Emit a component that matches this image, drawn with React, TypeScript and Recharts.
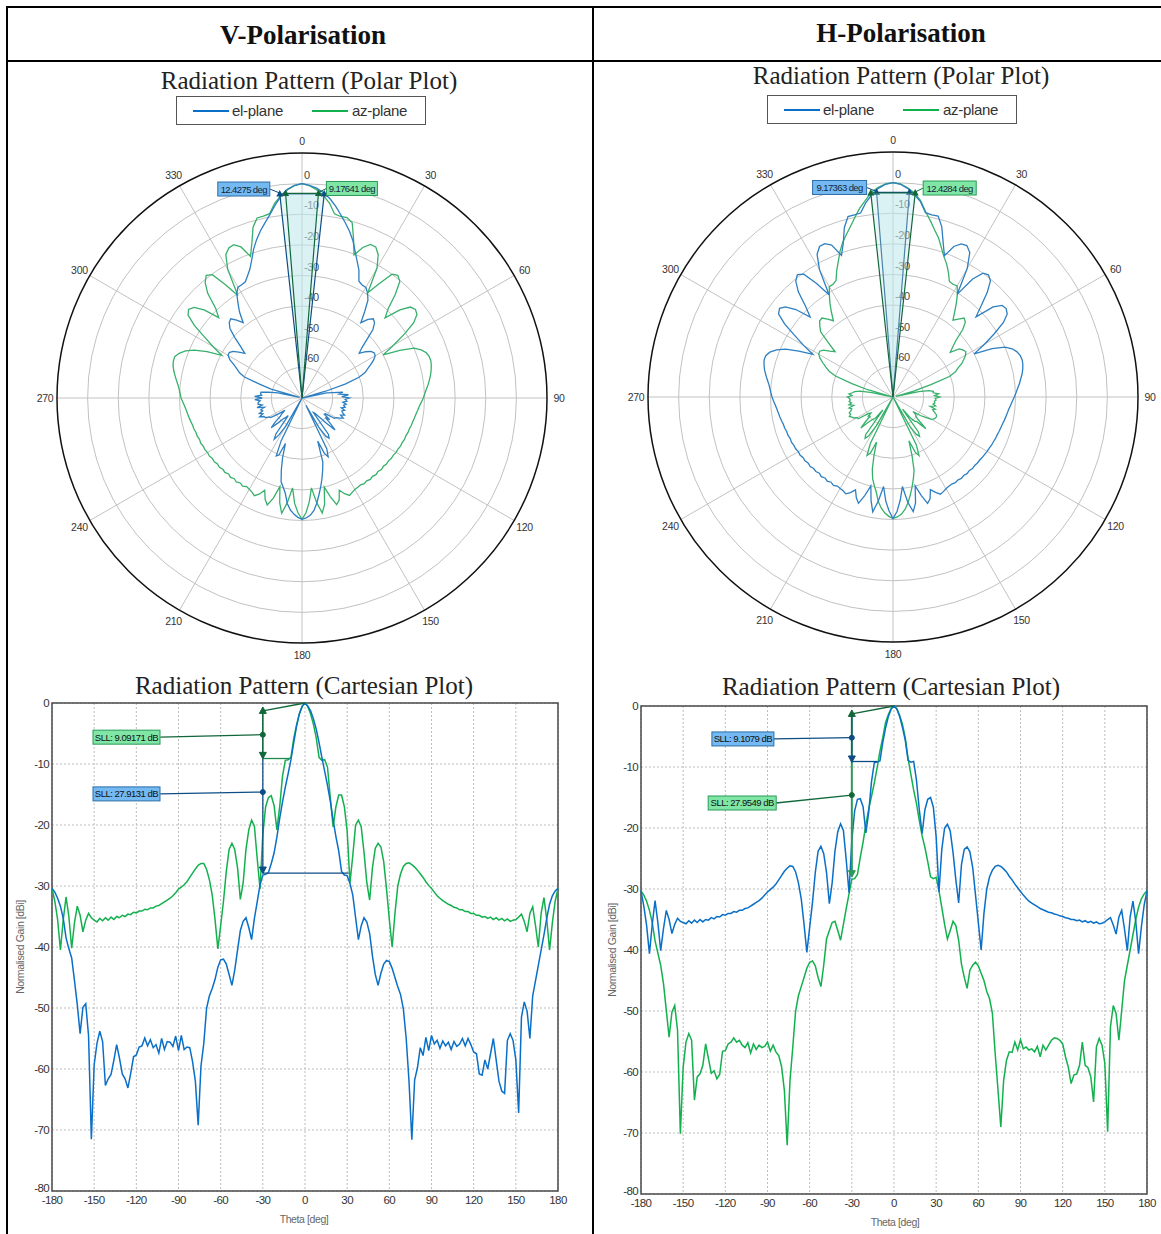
import React from 'react';
import {
  LineChart, Line, XAxis, YAxis, CartesianGrid, ReferenceLine, ReferenceDot, ReferenceArea,
  RadarChart, Radar, PolarGrid, PolarAngleAxis, PolarRadiusAxis,
} from 'recharts';

// theta grid (deg), 2 deg steps
const THETA = [
  -180, -178, -176, -174, -172, -170, -168, -166, -164, -162,
  -160, -158, -156, -154, -152, -150, -148, -146, -144, -142,
  -140, -138, -136, -134, -132, -130, -128, -126, -124, -122,
  -120, -118, -116, -114, -112, -110, -108, -106, -104, -102,
  -100, -98, -96, -94, -92, -90, -88, -86, -84, -82,
  -80, -78, -76, -74, -72, -70, -68, -66, -64, -62,
  -60, -58, -56, -54, -52, -50, -48, -46, -44, -42,
  -40, -38, -36, -34, -32, -30, -28, -26, -24, -22,
  -20, -18, -16, -14, -12, -10, -8, -6, -4, -2,
  0, 2, 4, 6, 8, 10, 12, 14, 16, 18,
  20, 22, 24, 26, 28, 30, 32, 34, 36, 38,
  40, 42, 44, 46, 48, 50, 52, 54, 56, 58,
  60, 62, 64, 66, 68, 70, 72, 74, 76, 78,
  80, 82, 84, 86, 88, 90, 92, 94, 96, 98,
  100, 102, 104, 106, 108, 110, 112, 114, 116, 118,
  120, 122, 124, 126, 128, 130, 132, 134, 136, 138,
  140, 142, 144, 146, 148, 150, 152, 154, 156, 158,
  160, 162, 164, 166, 168, 170, 172, 174, 176, 178,
  180,
];

// V-polarisation, el-plane (blue)
const V_EL = [
  -30.4, -31, -32, -33.3, -35.3, -38.5, -40.3, -41.8, -45.5, -49.5,
  -54.2, -49.9, -49.3, -54.5, -71.5, -59.3, -55.8, -53.8, -55.5, -62.7,
  -61.6, -60.9, -58.6, -56, -58.2, -60.8, -61.6, -63.1, -60.7, -58,
  -57.7, -56.4, -56.2, -54.9, -56.2, -55.2, -56.5, -56, -57.4, -55,
  -56.8, -55.5, -55.6, -56.3, -54.6, -57, -54.5, -56.8, -56.4, -56.5,
  -58.8, -62, -69.2, -59.5, -55.8, -50, -48, -46.8, -45.3, -43.3,
  -42.1, -42, -42.8, -44.5, -46.3, -43.8, -40.5, -37.3, -35.8, -35.2,
  -36.8, -38.8, -35.3, -32.6, -29.8, -28.2, -28.1, -27.8, -26.3, -24.6,
  -22, -18.9, -16.2, -13.8, -11.6, -9.3, -6.5, -3.8, -1.7, -0.5,
  0, -0.5, -1.3, -2.6, -4.3, -6.5, -8.9, -11.2, -13.5, -16.1,
  -19.2, -21.9, -24.3, -27.6, -28.2, -28.3, -29.6, -31.5, -35.2, -38.8,
  -36.5, -35.2, -35.9, -37.8, -41.5, -44.5, -46.3, -44.3, -42.8, -42.2,
  -42.4, -43.5, -45, -46.5, -47.8, -50.2, -55, -62, -71.6, -61.8,
  -59.8, -56.5, -57.8, -54.8, -57, -54.5, -55.9, -55.3, -56.6, -55.4,
  -56.2, -55.6, -56.8, -55.5, -56.3, -55.9, -55, -56.2, -55, -56,
  -57.2, -57.5, -60.8, -61, -58.5, -60, -57.5, -55, -58.5, -62,
  -63.6, -64, -55.3, -54.2, -55.3, -58.5, -67.2, -51.5, -49, -50.5,
  -55, -48, -45.5, -43, -40.5, -38, -35.3, -33, -31.6, -30.8,
  -30.4,
];

// V-polarisation, az-plane (green)
const V_AZ = [
  -30.4, -32.5, -35.5, -40.5, -35.5, -31.8, -35, -40.2, -36, -33.3,
  -34.8, -37.5, -35.6, -34.5, -35.2, -35.6, -35.9, -35.3, -35.7, -35.2,
  -35.6, -35.1, -35.5, -35, -35.2, -34.8, -35, -34.6, -34.7, -34.3,
  -34.4, -34.1, -34.1, -33.8, -33.9, -33.6, -33.6, -33.3, -33.2, -32.9,
  -32.6, -32.3, -32, -31.6, -31.1, -30.5, -30.2, -29.8, -29.3, -28.6,
  -27.9, -27.2, -26.6, -26.3, -26.3, -27.3, -29, -31.5, -35.5, -40.3,
  -36.5, -32.5, -27.6, -24, -23, -24, -27, -32.2, -29.5, -24,
  -20.8, -19.2, -20.2, -25.5, -30.5, -21.5, -17, -15.5, -15.2, -16.8,
  -20.8, -17, -12, -9.4, -9.3, -8.9, -5.8, -3.6, -1.8, -0.6,
  0, -0.6, -1.8, -3.5, -5.7, -8.9, -9.4, -9.3, -10.5, -15.5,
  -20.3, -17, -15.1, -15.1, -17, -21, -29.5, -25, -20, -19.2,
  -20.3, -24.5, -29.5, -32.3, -27, -23.8, -23, -23.6, -26, -30.5,
  -35.5, -40, -34.5, -30, -28, -26.8, -26.3, -26.2, -26.5, -26.9,
  -27.4, -28, -28.6, -29.3, -29.9, -30.4, -31, -31.6, -32, -32.4,
  -32.7, -33, -33.2, -33.5, -33.6, -33.9, -33.9, -34.2, -34.2, -34.5,
  -34.5, -34.8, -34.8, -35.1, -35, -35.3, -35.1, -35.5, -35.2, -35.6,
  -35.3, -35.7, -35.4, -35.8, -35.6, -35.5, -35.1, -34.6, -35.8, -37.5,
  -34.5, -33.4, -36.5, -40, -34.5, -31.9, -35.5, -40.5, -36, -32.5,
  -30.4,
];

// H-polarisation, el-plane (blue)
const H_EL = [
  -30.3, -32.8, -36, -40.6, -35.8, -31.9, -35.5, -40.1, -36.5, -33.5,
  -35, -37.3, -35.8, -34.8, -35.3, -35.5, -35.7, -35.2, -35.6, -35.1,
  -35.5, -35, -35.4, -35, -35.1, -34.7, -34.9, -34.5, -34.6, -34.2,
  -34.3, -34, -34, -33.7, -33.8, -33.5, -33.5, -33.2, -33.1, -32.8,
  -32.5, -32.2, -31.9, -31.5, -31, -30.5, -30.1, -29.7, -29.2, -28.5,
  -27.8, -27.1, -26.6, -26.2, -26.3, -27.2, -29, -31.6, -35.8, -40.4,
  -36.3, -32.2, -27.3, -23.8, -23, -24.2, -27.3, -32.4, -29, -23.8,
  -20.6, -19.3, -20.4, -25.2, -30.6, -22, -17.2, -15.3, -15.2, -16.5,
  -20.8, -17.4, -12.4, -9.3, -9.2, -9, -6, -3.6, -1.7, -0.5,
  0, -0.5, -1.7, -3.5, -5.6, -8.9, -9.2, -9.1, -12.2, -17,
  -20.9, -17, -15.3, -15, -16.6, -21.5, -30.5, -23.5, -20, -19.4,
  -20.5, -24, -28.5, -32.3, -26, -23.5, -23.1, -23.9, -26.5, -31,
  -35.5, -40, -34, -30, -28, -26.9, -26.3, -26.1, -26.3, -26.7,
  -27.2, -27.9, -28.5, -29.2, -29.8, -30.4, -31, -31.5, -32, -32.3,
  -32.6, -32.9, -33.2, -33.4, -33.6, -33.8, -33.9, -34.1, -34.2, -34.4,
  -34.5, -34.7, -34.8, -35, -35, -35.2, -35.1, -35.4, -35.2, -35.5,
  -35.3, -35.6, -35.4, -35.7, -35.6, -35.4, -35, -34.7, -35.9, -37.4,
  -34.6, -33.5, -36.6, -40.1, -34.6, -32, -35.3, -40.6, -36.2, -32.6,
  -30.3,
];

// H-polarisation, az-plane (green)
const H_AZ = [
  -30.3, -31, -32, -33.5, -35.5, -38.5, -40.5, -42.5, -45.5, -49.9,
  -54.3, -50.2, -49.1, -53.2, -70.1, -59.2, -55.1, -53.7, -54.8, -64.6,
  -60.8, -60.3, -58.9, -55.4, -57.8, -60.2, -59.8, -61.1, -60.4, -56.6,
  -56.5, -55.4, -55.1, -54.4, -55.1, -54.8, -55.6, -56, -55.2, -56.9,
  -55.4, -56.3, -55.6, -56, -55.8, -55.1, -56.6, -55.6, -56.7, -57.3,
  -59.1, -63, -72, -61.4, -55.9, -50, -47.5, -46, -44.5, -43,
  -42, -41.8, -42.6, -44.5, -46, -42.5, -38.2, -36.8, -35.5, -35.3,
  -36.8, -38.4, -35.8, -33.2, -30.8, -28.4, -28.3, -27.6, -24.8, -22.3,
  -19.4, -16.9, -14.8, -12.6, -10.1, -7.4, -5.2, -2.7, -1.4, -0.4,
  0, -0.4, -1.5, -3, -5.2, -8.6, -11.2, -13.8, -16, -18.8,
  -21.3, -23.2, -25.5, -28, -28.3, -28.1, -30.3, -33, -35.8, -38.2,
  -36.8, -35.3, -36, -38.4, -42.3, -44.5, -46.3, -43.3, -42.5, -42,
  -42.6, -43.8, -45, -46.8, -48, -50.4, -57, -63, -69, -61.4,
  -58.1, -56.7, -56.8, -55.1, -56.4, -54.7, -56.2, -55.9, -56.4, -56.2,
  -56.7, -55.8, -57.5, -55.6, -56.4, -55.6, -54.8, -54.4, -54.5, -54.8,
  -55.4, -57.5, -59.2, -61.9, -60.5, -60.3, -58.9, -55.1, -58.9, -59.3,
  -60.8, -64.9, -55.9, -54.5, -55.6, -58.6, -69.8, -52.6, -49.1, -50.4,
  -54.8, -49.9, -45, -42.5, -40, -37.5, -35, -33, -31.6, -30.8,
  -30.3,
];

const X_TICKS = [-180, -150, -120, -90, -60, -30, 0, 30, 60, 90, 120, 150, 180];
const Y_TICKS = [-80, -70, -60, -50, -40, -30, -20, -10, 0];
const ANGLE_TICKS = [0, 30, 60, 90, 120, 150, 180, 210, 240, 270, 300, 330];
const RING_TICKS = [-70, -60, -50, -40, -30, -20, -10, 0];

// beamwidths (deg) from the polar markers
const V_BW = { el: 12.4275, az: 9.17641 };
const H_BW = { el: 9.17363, az: 12.4284 };

// side lobe level markers
const SLL_THETA = -30;
const SLL_TOP = -1.3;

const BLUE = '#0a6fc7';
const GREEN = '#13b04e';
const BLUE_P = '#2d7fc1';
const GREEN_P = '#37b06b';
const DK_BLUE = '#0d4d86';
const DK_GREEN = '#11673a';
const SANS = '"Liberation Sans", Arial, sans-serif';
const SERIF = '"Liberation Serif", "Times New Roman", serif';

const CX = 280;
const CY = 270;
const OUTER = 245;

const cartRows = (el: number[], az: number[]) => THETA.map((t, i) => ({ t, el: el[i], az: az[i] }));

const polarRows = (el: number[], az: number[]) => {
  const rows = THETA.map((t, i) => ({ t, a: t < 0 ? t + 360 : t, el: Math.max(el[i], -70), az: Math.max(az[i], -70) }))
    .filter((r) => r.t !== -180);
  rows.sort((p, q) => p.a - q.a);
  return rows;
};

const wedgeRows = (bw: number, label: string, side: string) => [
  { a: 0, v: -70, lbl: '' },
  { a: bw / 2, v: -3, lbl: side === 'right' ? label : '' },
  { a: 360 - bw / 2, v: -3, lbl: side === 'left' ? label : '' },
];

const AngleTick = (p: any) => {
  const dx = p.x - CX;
  const dy = p.y - CY;
  const len = Math.sqrt(dx * dx + dy * dy) || 1;
  const v = p.payload ? p.payload.value : '';
  return (
    <text x={p.x + (dx / len) * 4} y={p.y + (dy / len) * 4} textAnchor="middle" dominantBaseline="central"
      fontSize={10.5} fontFamily={SANS} fill="#333" letterSpacing={-0.3}>{v}</text>
  );
};

const RingTick = (p: any) => {
  const v = p.payload ? p.payload.value : 0;
  if (v < -60 || v > 0) return <g />;
  return (
    <text x={p.x + 2} y={p.y - 9} dominantBaseline="central" fontSize={11} fontFamily={SANS} fill="#444" letterSpacing={-0.4}>{v}</text>
  );
};

type Wedge = { rows: any[]; stroke: string; mark: string; boxFill: string; boxStroke: string; boxW: number };

const wedgeDot = (w: Wedge) => (p: any) => {
  const row = p.payload && p.payload.v !== undefined ? p.payload : p.payload && p.payload.payload;
  if (!row || row.v !== -3) return <g key={`wd-${p.index}`} />;
  const { cx, cy } = p;
  const left = row.lbl && row.a > 180;
  const bx = left ? cx - 10 - w.boxW : cx + 8;
  return (
    <g key={`wd-${p.index}`}>
      <path d={`M${cx} ${cy - 4}L${cx + 3.5} ${cy + 2.5}L${cx - 3.5} ${cy + 2.5}Z`} fill={w.mark} />
      {row.lbl ? (
        <g>
          <line x1={cx} y1={cy - 1} x2={left ? bx + w.boxW : bx} y2={cy - 5} stroke={w.stroke} strokeWidth={1} />
          <rect x={bx} y={cy - 12} width={w.boxW} height={14} fill={w.boxFill} stroke={w.boxStroke} strokeWidth={1} />
          <text x={bx + w.boxW / 2} y={cy - 5} textAnchor="middle" dominantBaseline="central" fontSize={9.5}
            fontFamily={SANS} letterSpacing={-0.6} fill="#14283a">{row.lbl}</text>
        </g>
      ) : null}
    </g>
  );
};

function PolarPlot({ left, top, rows, wedges }: { left: number; top: number; rows: any[]; wedges: Wedge[] }) {
  return (
    <div style={{ position: 'absolute', left, top, width: 560, height: 540 }}>
      <RadarChart width={560} height={540} cx={CX} cy={CY} outerRadius={OUTER} data={rows}
        margin={{ top: 0, right: 0, bottom: 0, left: 0 }}>
        <PolarGrid gridType="circle" stroke="#c2c2c2" />
        <PolarAngleAxis dataKey="a" type="number" domain={[0, 360]} ticks={ANGLE_TICKS} axisLineType="circle"
          axisLine={{ stroke: '#111', strokeWidth: 1.5 }} tickLine={false} tick={(p: any) => <AngleTick {...p} />} />
        <PolarRadiusAxis angle={90} type="number" domain={[-70, 10]} ticks={RING_TICKS} tickCount={9}
          axisLine={false} tickLine={false} tick={(p: any) => <RingTick {...p} />} />
        <Radar dataKey="az" stroke={GREEN_P} strokeWidth={1.3} fill="none" fillOpacity={0} dot={false} isAnimationActive={false} />
        <Radar dataKey="el" stroke={BLUE_P} strokeWidth={1.3} fill="none" fillOpacity={0} dot={false} isAnimationActive={false} />
      </RadarChart>
      {wedges.map((w, i) => (
        <div key={i} style={{ position: 'absolute', left: 0, top: 0, pointerEvents: 'none' }}>
          <RadarChart width={560} height={540} cx={CX} cy={CY} outerRadius={OUTER} data={w.rows}
            margin={{ top: 0, right: 0, bottom: 0, left: 0 }}>
            <PolarAngleAxis dataKey="a" type="number" domain={[0, 360]} tick={false} axisLine={false} tickLine={false} />
            <PolarRadiusAxis type="number" domain={[-70, 10]} tick={false} axisLine={false} tickLine={false} />
            <Radar dataKey="v" stroke={w.stroke} strokeWidth={1.2} fill="#bfe8ea" fillOpacity={0.35}
              dot={wedgeDot(w)} isAnimationActive={false} />
          </RadarChart>
        </div>
      ))}
    </div>
  );
}

const triShape = (color: string, up: boolean) => (p: any) => {
  const { cx, cy } = p;
  const d = up
    ? `M${cx} ${cy - 4}L${cx + 3.5} ${cy + 2.5}L${cx - 3.5} ${cy + 2.5}Z`
    : `M${cx} ${cy + 4}L${cx + 3.5} ${cy - 2.5}L${cx - 3.5} ${cy - 2.5}Z`;
  return <path d={d} fill={color} stroke={color} />;
};

const boxShape = (text: string, w: number, fill: string, stroke: string) => (p: any) => (
  <g>
    <rect x={p.cx - w / 2} y={p.cy - 7} width={w} height={14} fill={fill} stroke={stroke} strokeWidth={1} />
    <text x={p.cx} y={p.cy} textAnchor="middle" dominantBaseline="central" fontSize={9.5} fontFamily={SANS}
      letterSpacing={-0.5} fill="#111">{text}</text>
  </g>
);

const seg = (x1: number, y1: number, x2: number, y2: number, color: string, key: string, w = 1.3) => (
  <ReferenceLine key={key} segment={[{ x: x1, y: y1 }, { x: x2, y: y2 }]} stroke={color} strokeWidth={w} ifOverflow="visible" />
);

const dot = (x: number, y: number, color: string, key: string) => (
  <ReferenceDot key={key} x={x} y={y} r={2.5} fill={color} stroke={color} ifOverflow="visible" />
);

const shapeDot = (x: number, y: number, shape: any, key: string) => (
  <ReferenceDot key={key} x={x} y={y} r={3} shape={shape} ifOverflow="visible" />
);

const V_ANNOT = [
  seg(SLL_THETA, SLL_TOP, 0, 0, DK_GREEN, 'pk'),
  seg(SLL_THETA, -9.1, SLL_THETA, -27.9, DK_BLUE, 'vb'),
  seg(SLL_THETA, SLL_TOP, SLL_THETA, -9.1, DK_GREEN, 'vg', 1.6),
  seg(SLL_THETA, -9.1, -11, -9.1, '#1f8a4c', 'hg'),
  seg(SLL_THETA, -27.9, 31, -27.9, DK_BLUE, 'hb'),
  seg(-103, -5.6, SLL_THETA, -5.2, DK_GREEN, 'lg'),
  seg(-103, -14.9, SLL_THETA, -14.6, DK_BLUE, 'lb'),
  dot(SLL_THETA, -5.2, DK_GREEN, 'dg'),
  dot(SLL_THETA, -14.6, DK_BLUE, 'db'),
  shapeDot(SLL_THETA, SLL_TOP, triShape(DK_GREEN, true), 't1'),
  shapeDot(SLL_THETA, -8.5, triShape(DK_GREEN, false), 't2'),
  shapeDot(SLL_THETA, -27.3, triShape(DK_BLUE, false), 't3'),
  shapeDot(-127, -5.6, boxShape('SLL: 9.09171 dB', 67, '#80e6a6', '#2a9a58'), 'bg'),
  shapeDot(-127, -14.9, boxShape('SLL: 27.9131 dB', 67, '#74b9f1', '#2d6ea8'), 'bb'),
];

const H_ANNOT = [
  seg(SLL_THETA, SLL_TOP, 0, 0, DK_GREEN, 'pk'),
  seg(SLL_THETA, SLL_TOP, SLL_THETA, -27.9, '#2c9a58', 'vg', 2),
  seg(SLL_THETA, SLL_TOP, SLL_THETA, -9.1, DK_BLUE, 'vb', 1.2),
  seg(SLL_THETA, -9.1, -12, -9.1, DK_BLUE, 'hb'),
  seg(-85.5, -5.4, SLL_THETA, -5.2, DK_BLUE, 'lb'),
  seg(-84, -15.9, SLL_THETA, -14.6, DK_GREEN, 'lg'),
  dot(SLL_THETA, -5.2, DK_BLUE, 'db'),
  dot(SLL_THETA, -14.6, DK_GREEN, 'dg'),
  shapeDot(SLL_THETA, SLL_TOP, triShape(DK_GREEN, true), 't1'),
  shapeDot(SLL_THETA, -8.6, triShape(DK_BLUE, false), 't2'),
  shapeDot(SLL_THETA, -27.4, triShape('#2c9a58', false), 't3'),
  shapeDot(-107.5, -5.4, boxShape('SLL: 9.1079 dB', 62, '#74b9f1', '#2d6ea8'), 'bb'),
  shapeDot(-108, -15.9, boxShape('SLL: 27.9549 dB', 68, '#80e6a6', '#2a9a58'), 'bg'),
];

const TICK = { fontSize: 11.5, fontFamily: SANS, fill: '#333', letterSpacing: -0.6 };

const YTick = (p: any) => {
  const v = p.payload ? p.payload.value : 0;
  return (
    <text x={p.x} y={v === -80 ? p.y - 3 : p.y} textAnchor="end" dominantBaseline="central" {...TICK}>{v}</text>
  );
};

function CartPlot({ left, top, rows, annotations }: { left: number; top: number; rows: any[]; annotations: any[] }) {
  return (
    <div style={{ position: 'absolute', left, top }}>
      <LineChart width={581} height={521} data={rows} margin={{ top: 13, right: 23, bottom: 0, left: 0 }}>
        <CartesianGrid stroke="#bdbdbd" strokeDasharray="2 2" />
        <ReferenceArea x1={-180} x2={180} y1={-80} y2={0} fill="none" stroke="#4a4a4a" strokeWidth={1.5} />
        <XAxis type="number" dataKey="t" domain={[-180, 180]} ticks={X_TICKS} interval={0} tickLine={false}
          axisLine={false} tickSize={0} tickMargin={5} height={20} tick={TICK} />
        <YAxis type="number" domain={[-80, 0]} ticks={Y_TICKS} interval={0} tickLine={false} axisLine={false}
          tickSize={0} tickMargin={3} width={52} tick={(p: any) => <YTick {...p} />} />
        <Line dataKey="az" stroke={GREEN} strokeWidth={1.5} dot={false} isAnimationActive={false} />
        <Line dataKey="el" stroke={BLUE} strokeWidth={1.5} dot={false} isAnimationActive={false} />
        {annotations}
      </LineChart>
    </div>
  );
}

function Text({ x, y, children, style }: { x: number; y: number; children: any; style?: any }) {
  return (
    <div style={{ position: 'absolute', left: x, top: y, transform: 'translate(-50%, -50%)', whiteSpace: 'nowrap', lineHeight: 1, ...style }}>
      {children}
    </div>
  );
}

function Legend({ left, top }: { left: number; top: number }) {
  const item = { position: 'absolute' as const, top: 6, fontSize: 15, lineHeight: '16px', color: '#333', letterSpacing: -0.3 };
  return (
    <div style={{ position: 'absolute', left, top, width: 250, height: 29, border: '1px solid #555', boxSizing: 'border-box', fontFamily: SANS }}>
      <span style={{ position: 'absolute', left: 16, top: 13, width: 36, height: 2, background: BLUE }} />
      <span style={{ ...item, left: 55 }}>el-plane</span>
      <span style={{ position: 'absolute', left: 135, top: 13, width: 36, height: 2, background: GREEN }} />
      <span style={{ ...item, left: 175 }}>az-plane</span>
    </div>
  );
}

const HEAD = { fontFamily: SERIF, fontWeight: 700, fontSize: 27, color: '#111' };
const TITLE = { fontFamily: SERIF, fontSize: 25, color: '#222' };
const AXLBL = { fontFamily: SANS, fontSize: 10.5, color: '#666', letterSpacing: -0.4 };

export default function App() {
  const vPolar = polarRows(V_EL, V_AZ);
  const hPolar = polarRows(H_EL, H_AZ);
  const vWedges: Wedge[] = [
    { rows: wedgeRows(V_BW.el, `${V_BW.el} deg`, 'left'), stroke: DK_BLUE, mark: DK_BLUE, boxFill: '#74b9f1', boxStroke: '#2d6ea8', boxW: 52 },
    { rows: wedgeRows(V_BW.az, `${V_BW.az} deg`, 'right'), stroke: DK_GREEN, mark: DK_GREEN, boxFill: '#80e6a6', boxStroke: '#2a9a58', boxW: 51 },
  ];
  const hWedges: Wedge[] = [
    { rows: wedgeRows(H_BW.el, `${H_BW.el} deg`, 'left'), stroke: DK_BLUE, mark: DK_BLUE, boxFill: '#74b9f1', boxStroke: '#2d6ea8', boxW: 54 },
    { rows: wedgeRows(H_BW.az, `${H_BW.az} deg`, 'right'), stroke: DK_GREEN, mark: DK_GREEN, boxFill: '#80e6a6', boxStroke: '#2a9a58', boxW: 53 },
  ];

  return (
    <div style={{ position: 'absolute', left: 0, top: 0, width: 1161, height: 1234, background: '#fff', overflow: 'hidden' }}>
      {/* table rules */}
      <div style={{ position: 'absolute', left: 6, top: 6, width: 1155, height: 2, background: '#000' }} />
      <div style={{ position: 'absolute', left: 6, top: 60, width: 1155, height: 2, background: '#000' }} />
      <div style={{ position: 'absolute', left: 6, top: 6, width: 2, height: 1228, background: '#000' }} />
      <div style={{ position: 'absolute', left: 592, top: 6, width: 2, height: 1228, background: '#000' }} />

      <Text x={303} y={35} style={HEAD}>V-Polarisation</Text>
      <Text x={901} y={33} style={HEAD}>H-Polarisation</Text>

      <Text x={309} y={80} style={TITLE}>Radiation Pattern (Polar Plot)</Text>
      <Text x={901} y={75} style={TITLE}>Radiation Pattern (Polar Plot)</Text>
      <Legend left={176} top={96} />
      <Legend left={767} top={95} />

      <PolarPlot left={22} top={128} rows={vPolar} wedges={vWedges} />
      <PolarPlot left={613} top={127} rows={hPolar} wedges={hWedges} />

      <Text x={304} y={685} style={TITLE}>Radiation Pattern (Cartesian Plot)</Text>
      <Text x={891} y={686} style={TITLE}>Radiation Pattern (Cartesian Plot)</Text>

      <CartPlot left={0} top={690} rows={cartRows(V_EL, V_AZ)} annotations={V_ANNOT} />
      <CartPlot left={589} top={693} rows={cartRows(H_EL, H_AZ)} annotations={H_ANNOT} />

      <Text x={20} y={947} style={{ ...AXLBL, transform: 'translate(-50%, -50%) rotate(-90deg)' }}>Normalised Gain [dBi]</Text>
      <Text x={304} y={1219} style={AXLBL}>Theta [deg]</Text>
      <Text x={612} y={950} style={{ ...AXLBL, transform: 'translate(-50%, -50%) rotate(-90deg)' }}>Normalised Gain [dBi]</Text>
      <Text x={895} y={1222} style={AXLBL}>Theta [deg]</Text>
    </div>
  );
}
